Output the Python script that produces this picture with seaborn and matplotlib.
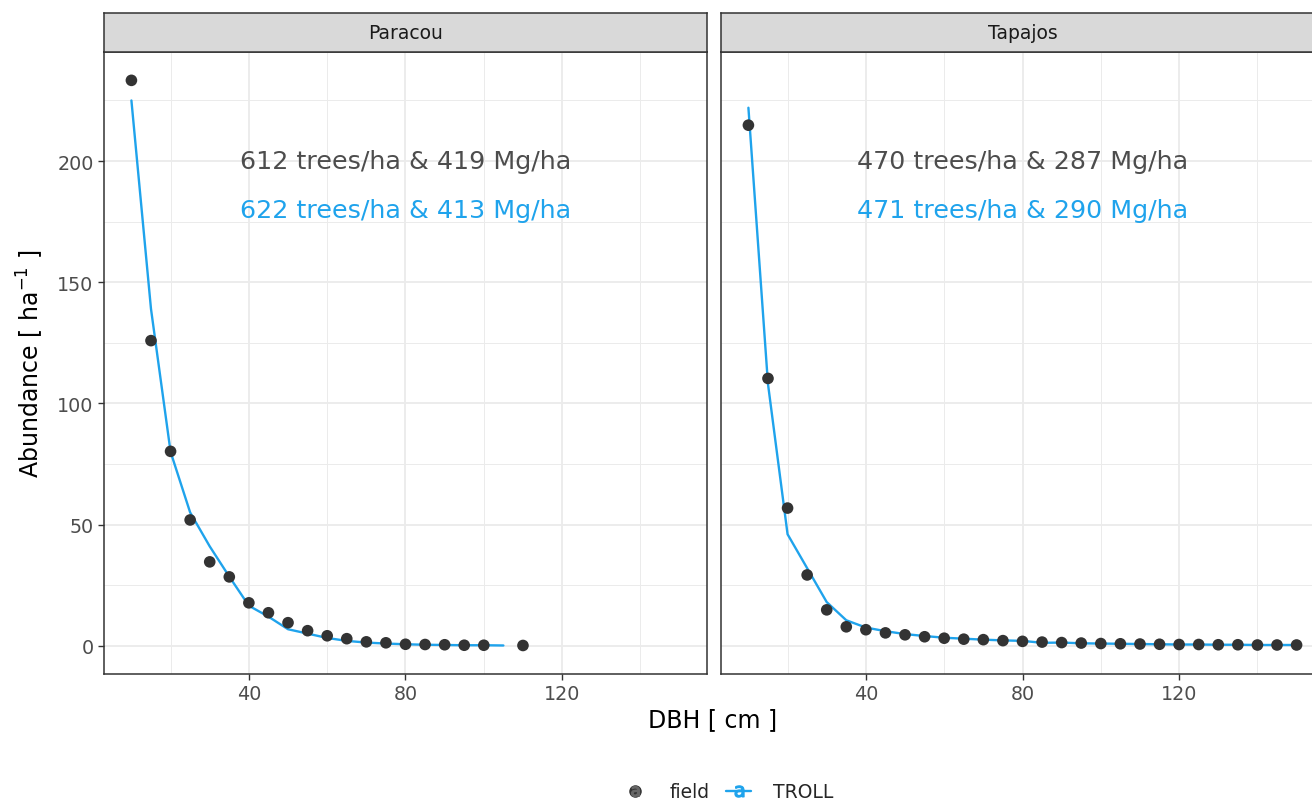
import numpy as np
import pandas as pd
import matplotlib
matplotlib.use("Agg")
import matplotlib.pyplot as plt
from matplotlib.lines import Line2D
from matplotlib.legend_handler import HandlerTuple
import seaborn as sns

# ---------------- data ----------------
sites = ["Paracou", "Tapajos"]

paracou_field_dbh = [10, 15, 20, 25, 30, 35, 40, 45, 50, 55, 60, 65, 70, 75, 80, 85, 90, 95, 100, 110]
paracou_field_n = [233.3, 125.9, 80.2, 51.9, 34.6, 28.4, 17.7, 13.6, 9.5, 6.2, 4.1, 2.9, 1.6, 1.2,
                   0.6, 0.5, 0.4, 0.2, 0.2, 0.1]
paracou_troll_dbh = [10, 15, 20, 25, 30, 35, 40, 45, 50, 55, 60, 65, 70, 75, 80, 85, 90, 95, 100, 105]
paracou_troll_n = [225.0, 139.0, 80.0, 55.0, 41.0, 28.5, 16.5, 12.0, 6.8, 5.0, 3.2, 2.0, 1.3, 0.9,
                   0.6, 0.4, 0.3, 0.2, 0.2, 0.1]

tapajos_field_dbh = [10, 15, 20, 25, 30, 35, 40, 45, 50, 55, 60, 65, 70, 75, 80, 85, 90, 95, 100,
                     105, 110, 115, 120, 125, 130, 135, 140, 145, 150]
tapajos_field_n = [214.8, 110.3, 56.8, 29.2, 14.8, 7.8, 6.6, 5.3, 4.5, 3.7, 3.1, 2.7, 2.5, 2.1, 1.8,
                   1.5, 1.3, 1.1, 0.9, 0.8, 0.7, 0.6, 0.5, 0.5, 0.4, 0.4, 0.3, 0.3, 0.3]
tapajos_troll_dbh = [10, 15, 20, 25, 30, 35, 40, 45, 50, 55, 60, 65, 70, 75, 80, 85, 90, 95, 100,
                     105, 110, 115, 120, 125, 130, 135, 140, 145, 150]
tapajos_troll_n = [222.0, 108.0, 46.0, 32.0, 18.0, 10.5, 7.5, 6.0, 4.8, 4.0, 3.3, 2.9, 2.5, 2.2, 2.0,
                   1.2, 1.3, 1.0, 0.9, 0.8, 0.7, 0.6, 0.5, 0.5, 0.4, 0.4, 0.3, 0.3, 0.3]

field_labels = ["612 trees/ha & 419 Mg/ha", "470 trees/ha & 287 Mg/ha"]
troll_labels = ["622 trees/ha & 413 Mg/ha", "471 trees/ha & 290 Mg/ha"]

x_ticks = [40, 80, 120]
y_ticks = [0, 50, 100, 150, 200]

field_df = pd.concat([
    pd.DataFrame({"site": "Paracou", "dbh": paracou_field_dbh, "n": paracou_field_n}),
    pd.DataFrame({"site": "Tapajos", "dbh": tapajos_field_dbh, "n": tapajos_field_n}),
])
troll_df = pd.concat([
    pd.DataFrame({"site": "Paracou", "dbh": paracou_troll_dbh, "n": paracou_troll_n}),
    pd.DataFrame({"site": "Tapajos", "dbh": tapajos_troll_dbh, "n": tapajos_troll_n}),
])

# ---------------- style ----------------
sns.set_theme(style="white")
plt.rcParams["font.family"] = ["DejaVu Sans"]

W, H = 1312, 804
fig = plt.figure(figsize=(W / 100, H / 100), dpi=100)

BLUE = "#1FA3EC"
DARK = "#333333"
GRID = "#EBEBEB"

def px_rect(x0, y0, x1, y1):
    return [x0 / W, 1 - y1 / H, (x1 - x0) / W, (y1 - y0) / H]

panel_x = [(104, 707), (721, 1324)]
panel_top, panel_bot = 53, 675
strip_top = 14

xlim = (3.0, 157.0)
ylim = (-11.67, 245.0)

for i, site in enumerate(sites):
    x0, x1 = panel_x[i]
    ax = fig.add_axes(px_rect(x0, panel_top, x1, panel_bot))
    ax.set_xlim(*xlim)
    ax.set_ylim(*ylim)
    # grid
    for v in [20, 60, 100, 140]:
        ax.axvline(v, color=GRID, lw=0.7, zorder=0)
    for v in [25, 75, 125, 175, 225]:
        ax.axhline(v, color=GRID, lw=0.7, zorder=0)
    for v in x_ticks:
        ax.axvline(v, color=GRID, lw=1.3, zorder=0)
    for v in y_ticks:
        ax.axhline(v, color=GRID, lw=1.3, zorder=0)

    sns.lineplot(data=troll_df[troll_df.site == site], x="dbh", y="n", ax=ax,
                 color=BLUE, lw=1.7, zorder=2, legend=False)
    sns.scatterplot(data=field_df[field_df.site == site], x="dbh", y="n", ax=ax,
                    color=DARK, s=70, edgecolor="none", zorder=3, legend=False)

    ax.text(80, 200, field_labels[i], ha="center", va="center", fontsize=18.3, color="#4D4D4D")
    ax.text(80, 180, troll_labels[i], ha="center", va="center", fontsize=18.3, color=BLUE)

    ax.set_xticks(x_ticks)
    ax.set_yticks(y_ticks)
    ax.set_xlabel("")
    ax.set_ylabel("")
    ax.tick_params(axis="both", which="major", length=4.5, width=1, color=DARK,
                   labelsize=13.8, labelcolor="#4D4D4D", pad=3, direction="out")
    ax.tick_params(axis="x", bottom=True)
    if i == 0:
        ax.tick_params(axis="y", left=True)
    else:
        ax.tick_params(axis="y", left=False, labelleft=False)
    for sp in ax.spines.values():
        sp.set_color(DARK)
        sp.set_linewidth(1.1)
    ax.grid(False)

    # strip
    sax = fig.add_axes(px_rect(x0, strip_top, x1, panel_top))
    sax.set_facecolor("#D9D9D9")
    sax.set_xticks([])
    sax.set_yticks([])
    for sp in sax.spines.values():
        sp.set_color(DARK)
        sp.set_linewidth(1.1)
    sax.text(0.5, 0.5, site, transform=sax.transAxes, ha="center", va="center",
             fontsize=13.5, color="#1A1A1A")

fig.text(713 / W, 1 - 720 / H, "DBH [ cm ]", ha="center", va="center", fontsize=17, color="black")
fig.text(30 / W, 1 - 364 / H, "Abundance [ ha$^{-1}$ ]", ha="center", va="center",
         rotation=90, fontsize=17, color="black")

# legend (ggplot style keys with text glyph)
h_field = (Line2D([], [], ls="none", marker="o", color=DARK, markersize=8),
           Line2D([], [], ls="none", marker=r"$\mathrm{a}$", color="#666666", markersize=7))
h_troll = (Line2D([], [], color=BLUE, lw=1.7),
           Line2D([], [], ls="none", marker=r"$\mathrm{a}$", color=BLUE, markersize=8))
fig.legend([h_field, h_troll], ["field", "TROLL"], loc="center",
           bbox_to_anchor=(728 / W, 1 - 793 / H), ncol=2, frameon=False,
           handler_map={tuple: HandlerTuple(ndivide=1, pad=0)},
           fontsize=13.5, handlelength=1.3, handletextpad=1.2, columnspacing=0.9)

fig.savefig("out.png", dpi=100)
